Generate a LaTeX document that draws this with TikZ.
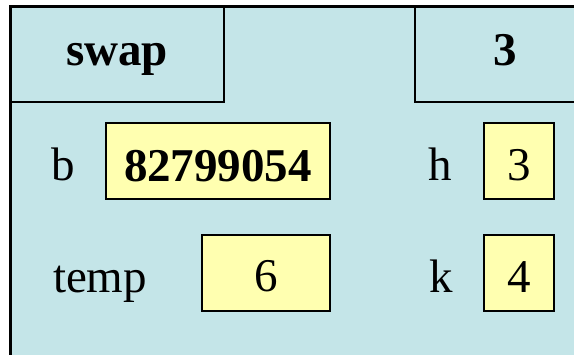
\documentclass[tikz,border=0pt]{standalone}
\usepackage{fontspec}
\setmainfont{Liberation Serif}
\definecolor{framebg}{RGB}{196,229,232}
\definecolor{cellbg}{RGB}{255,255,176}
\tikzset{
  cell/.style={draw=black, line width=2pt, fill=cellbg, inner sep=0pt, minimum height=76pt},
  txt/.style={inner sep=0pt, anchor=base, font=\fontsize{47}{50}\selectfont},
  btxt/.style={txt, font=\fontsize{47}{50}\selectfont\bfseries},
}
\begin{document}
\begin{tikzpicture}[x=1pt, y=-1pt]
\useasboundingbox (0,0) rectangle (574,355);
\clip (0,0) rectangle (574,355);
% frame of the activation record
\fill[framebg] (10,7) rectangle (590,370);
% header cells
\draw[line width=2pt] (10,102) -- (224,102) -- (224,7);
\draw[line width=2pt] (415,7) -- (415,102) -- (590,102);
\draw[line width=3pt] (10,370) -- (10,7) -- (590,7);
\node[btxt] (name) at (117,66) {swap};
\node[btxt] (line) at (505,66) {3};
% variable cells
\node[cell, minimum width=224pt] (bbox) at (218,161) {};
\node[cell, minimum width=70pt] (hbox) at (519,161) {};
\node[cell, minimum width=128pt] (tbox) at (266,273) {};
\node[cell, minimum width=70pt] (kbox) at (519,273) {};
% variable names
\node[txt] (bl) at (63,181) {b};
\node[txt] (hl) at (440,181) {h};
\node[txt] (tl) at (100,293) {temp};
\node[txt] (kl) at (441,293) {k};
% values
\node[btxt] (bv) at (bbox.center |- 0,182) {82799054};
\node[txt] (hv) at (hbox.center |- 0,181) {3};
\node[txt] (tv) at (tbox.center |- 0,292) {6};
\node[txt] (kv) at (kbox.center |- 0,293) {4};
\end{tikzpicture}
\end{document}
